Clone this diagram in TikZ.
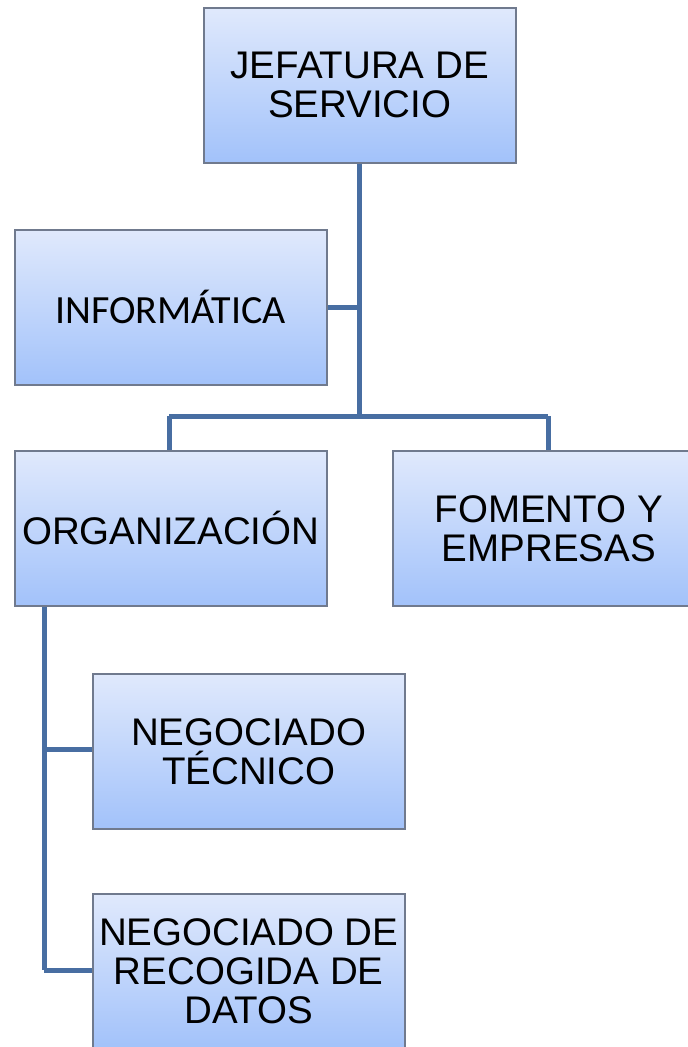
\documentclass[tikz,border=0pt]{standalone}
\usepackage{fontspec}
\setmainfont{Liberation Sans}
\newfontfamily\calib{Carlito}
\usetikzlibrary{shadows}
\definecolor{topc}{RGB}{224,233,252}
\definecolor{botc}{RGB}{162,194,250}
\definecolor{edgec}{RGB}{112,122,142}
\definecolor{linec}{RGB}{72,110,162}
\tikzset{
  orgbox/.style={draw=edgec, line width=1.5pt, top color=topc, bottom color=botc,
    minimum width=312pt, minimum height=155pt, inner sep=0pt, align=center,
    font=\fontsize{38.5}{39}\selectfont,
    drop shadow={shadow xshift=1.5pt, shadow yshift=-1.5pt, opacity=0.35, fill=black}},
  conn/.style={draw=linec, line width=5pt}
}
\begin{document}
\begin{tikzpicture}[x=1pt,y=-1pt]
\useasboundingbox (0,0) rectangle (688,1047);
\begin{scope}
\clip (0,0) rectangle (688,1047);
\coordinate (hub) at (359,416);
\coordinate (lft) at (169,416);
\coordinate (rgt) at (548,416);
\coordinate (tec) at (44,749);
\coordinate (rec) at (44,970);
\node[orgbox, anchor=north west] (jef) at (203,7) {JEFATURA DE\\SERVICIO};
\node[orgbox, anchor=north west, font=\calib\fontsize{40}{40}\selectfont] (inf) at (14,229) {INFORMÁTICA};
\node[orgbox, anchor=north west] (org) at (14,450) {ORGANIZACIÓN};
\node[orgbox, anchor=north west] (fom) at (392,450) {FOMENTO Y\\EMPRESAS};
\node[orgbox, anchor=north west] (tecn) at (92,673) {NEGOCIADO\\TÉCNICO};
\node[orgbox, anchor=north west] (reco) at (92,893) {NEGOCIADO DE\\RECOGIDA DE\\DATOS};
\draw[conn] (jef.south -| hub) -- (hub);
\draw[conn] (inf.east) -- (inf.east -| hub);
\draw[conn] (lft) -- (rgt);
\draw[conn] (lft) -- (org.north -| lft);
\draw[conn] (rgt) -- (fom.north -| rgt);
\draw[conn] (org.south -| tec) -- (rec);
\draw[conn] (tec) -- (tec -| tecn.west);
\draw[conn] (rec) -- (rec -| reco.west);
\end{scope}
\end{tikzpicture}
\end{document}
